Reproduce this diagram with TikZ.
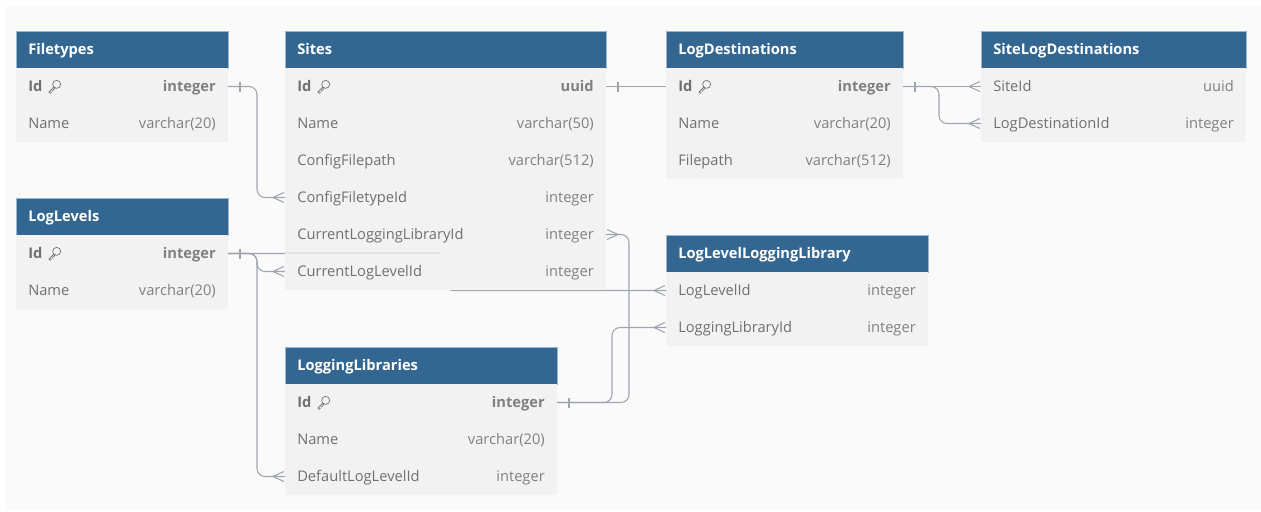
\documentclass[tikz,border=0pt]{standalone}
\usepackage{fontspec}
\setmainfont{Open Sans}
\usetikzlibrary{calc}

\definecolor{hdrblue}{RGB}{51,103,145}
\definecolor{hdredge}{RGB}{150,182,210}
\definecolor{rowfill}{RGB}{242,242,242}
\definecolor{canvas}{RGB}{250,250,250}
\definecolor{fieldgray}{RGB}{112,112,112}
\definecolor{typegray}{RGB}{128,128,128}
\definecolor{keygray}{RGB}{120,120,120}
\definecolor{linkgray}{RGB}{160,164,174}
\definecolor{linkfaint}{RGB}{226,227,231}

\tikzset{
  hdr/.style={fill=hdrblue, draw=hdredge, line width=0.4pt, anchor=north west,
    minimum height=27.75pt, inner sep=0pt, outer sep=0pt},
  rowbox/.style={fill=rowfill, anchor=north west, minimum height=27.75pt,
    inner sep=0pt, outer sep=0pt},
  titletxt/.style={text=white, font=\bfseries\fontsize{11}{13}\selectfont,
    anchor=base west, inner sep=0pt},
  fieldtxt/.style={text=fieldgray, font=\fontsize{11}{13}\selectfont,
    anchor=base west, inner sep=0pt},
  typetxt/.style={text=typegray, font=\fontsize{11}{13}\selectfont,
    anchor=base east, inner sep=0pt},
  boldtxt/.style={font=\bfseries\fontsize{11}{13}\selectfont},
  conn/.style={draw=linkgray, line width=0.8pt, rounded corners=6pt},
  endtick/.style={draw=linkgray, line width=0.8pt},
}

% table header: id, x, y, width (px), title
\newcommand\erhead[5]{%
  \def\ertw{#4}%
  \node[hdr, minimum width={#4*0.75pt}] (#1) at (#2,#3) {};
  \node[titletxt] (#1-title) at ([xshift=9pt,yshift=-4pt]#1.west) {#5};}
% ordinary column row: id, node above, field, type
\newcommand\errow[4]{%
  \node[rowbox, minimum width={\ertw*0.75pt}] (#1) at (#2.south west) {};
  \node[fieldtxt] (#1-f) at ([xshift=9pt,yshift=-4pt]#1.west) {#3};
  \node[typetxt] (#1-t) at ([xshift=-9pt,yshift=-4pt]#1.east) {#4};}
% primary key row: bold text and key icon
\newcommand\erkey[4]{%
  \node[rowbox, minimum width={\ertw*0.75pt}] (#1) at (#2.south west) {};
  \node[fieldtxt, boldtxt] (#1-f) at ([xshift=9pt,yshift=-4pt]#1.west) {#3};
  \node[typetxt, boldtxt] (#1-t) at ([xshift=-9pt,yshift=-4pt]#1.east) {#4};
  \keyicon{#1-f.base east}}
% outlined key: ring top right, shank to bottom left
\newcommand\keyicon[1]{%
  \begin{scope}[shift={(#1)}]
    \draw[keygray, line width=0.55pt] (14,-7.5) circle[radius=4];
    \draw[keygray, line width=0.55pt, line join=round]
      (11.2,-4.7) -- (6.2,0.3) -- (7.6,1.6) -- (8.6,0.6) -- (8.2,0.2)
      (11.2,-4.7) -- (12.4,-3.5) -- (9.4,-0.5);
  \end{scope}}
% relationship ends
\newcommand\onebar[2]{%
  \draw[endtick] ($(#1)+(#2,-5)$) -- ($(#1)+(#2,5)$);}
\newcommand\crowleft[1]{%
  \draw[endtick] ($(#1)+(-1,-5)$) -- ($(#1)+(-12,0)$) -- ($(#1)+(-1,5)$);}
\newcommand\crowright[1]{%
  \draw[endtick] ($(#1)+(1,-5)$) -- ($(#1)+(12,0)$) -- ($(#1)+(1,5)$);}

\begin{document}
\begin{tikzpicture}[x=0.75pt, y=-0.75pt]
  \useasboundingbox (0,0) rectangle (1261,511);
  \fill[white] (0,0) rectangle (1261,511);
  \fill[canvas] (5,6) rectangle (1261,510);

  % ---------- tables that no link passes under
  \erhead{ft}{16}{31}{212}{Filetypes}
  \erkey{ft1}{ft}{Id}{integer}
  \errow{ft2}{ft1}{Name}{varchar(20)}

  \erhead{ll}{16}{198}{212}{LogLevels}
  \erkey{ll1}{ll}{Id}{integer}
  \errow{ll2}{ll1}{Name}{varchar(20)}

  \erhead{lll}{666}{235}{262}{LogLevelLoggingLibrary}
  \errow{lll1}{lll}{LogLevelId}{integer}
  \errow{lll2}{lll1}{LoggingLibraryId}{integer}

  \erhead{lb}{285}{347}{272}{LoggingLibraries}
  \erkey{lb1}{lb}{Id}{integer}
  \errow{lb2}{lb1}{Name}{varchar(20)}
  \errow{lb3}{lb2}{DefaultLogLevelId}{integer}

  \erhead{sl}{981}{31}{265}{SiteLogDestinations}
  \errow{sl1}{sl}{SiteId}{uuid}
  \errow{sl2}{sl1}{LogDestinationId}{integer}

  % ---------- relationships (tables that lie over them are drawn after)
  \coordinate (j6) at ($(lll1.west)+(-221,0)$);
  \draw[conn] (ft1.east) -- ++(29,0) |- (285,197.5);
  \draw[conn] (ll1.east) -- ++(29,0) |- (285,271.5);
  \draw[conn] (ll1.east) -- ++(29,0) |- (lb3.west);
  \draw[conn] (ll1.east) -| (j6) -- (lll1.west);
  \draw[conn] (606,86.5) -- (sl1.west);
  \draw[conn] (606,234.5) -| ($(lb1.east)+(72,0)$) -- (lb1.east);
  \draw[conn] (lb1.east) -- ++(55,0) |- (lll2.west);

  \erhead{st}{285}{31}{321}{Sites}
  \erkey{st1}{st}{Id}{uuid}
  \errow{st2}{st1}{Name}{varchar(50)}
  \errow{st3}{st2}{ConfigFilepath}{varchar(512)}
  \errow{st4}{st3}{ConfigFiletypeId}{integer}
  \errow{st5}{st4}{CurrentLoggingLibraryId}{integer}
  \errow{st6}{st5}{CurrentLogLevelId}{integer}

  \erhead{ld}{666}{31}{237}{LogDestinations}
  \erkey{ld1}{ld}{Id}{integer}
  \errow{ld2}{ld1}{Name}{varchar(20)}
  \errow{ld3}{ld2}{Filepath}{varchar(512)}

  \draw[conn] (ld1.east) -- ++(36,0) |- (sl2.west);

  % link from LogLevels showing faintly through the Sites table
  \draw[draw=linkfaint, line width=0.8pt] (st6.north west) -- ($(st6.north west)+(155,0)$);

  % ---------- cardinality marks
  \onebar{ft1.east}{12}
  \crowleft{st4.west}
  \onebar{st1.east}{12}
  \onebar{ld1.east}{12}
  \crowleft{sl1.west}
  \crowleft{sl2.west}
  \onebar{ll1.east}{12}
  \crowleft{st6.west}
  \crowleft{lb3.west}
  \crowleft{lll1.west}
  \crowright{st5.east}
  \onebar{lb1.east}{12}
  \crowleft{lll2.west}
\end{tikzpicture}
\end{document}
